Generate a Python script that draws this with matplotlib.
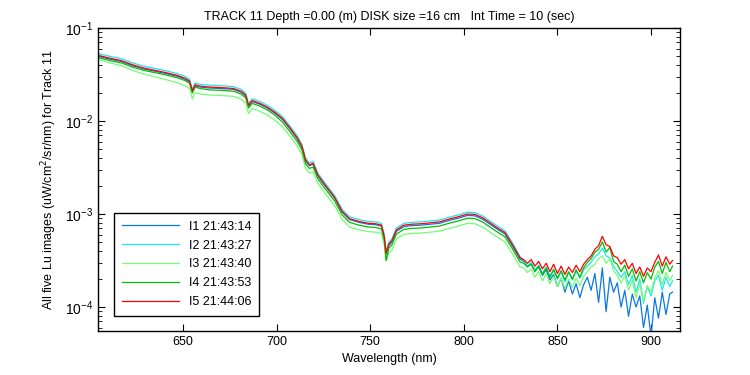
import numpy as np
import matplotlib
matplotlib.use('Agg')
import matplotlib.pyplot as plt
from matplotlib.ticker import LogLocator, NullFormatter

plt.rcParams['font.family'] = ['Liberation Sans', 'DejaVu Sans']

# wavelength grid (nm)
wl = [605, 611, 617, 623, 629, 635, 641, 647, 651, 653.5, 655, 656.5, 659,
      664, 670, 677, 681, 683.5, 685, 687, 691, 695, 699, 703, 707, 711,
      713.5, 715.5, 717.5, 719.5, 722, 726, 731, 735, 739, 744, 749, 753, 756,
      757.5, 758.5, 760, 761.5, 764, 768, 772, 777, 782, 787, 792, 797, 802,
      806, 810, 814, 818, 822, 826, 830,
      832, 834, 836, 838, 840, 842, 844, 846, 848, 850, 852, 854, 856, 858,
      860, 862, 864, 866, 868, 870, 872, 874, 876, 878, 880, 882, 884, 886,
      888, 890, 892, 894, 896, 898, 900, 902, 904, 906, 908, 910, 911.5]

# log10 of Lu (uW/cm^2/sr/nm) for each image
I1_log = [-1.305, -1.335, -1.360, -1.405, -1.440, -1.465, -1.490, -1.520, -1.550, -1.580,
          -1.685, -1.620, -1.635, -1.645, -1.650, -1.660, -1.690, -1.730, -1.840, -1.790,
          -1.820, -1.860, -1.915, -1.980, -2.080, -2.190, -2.280, -2.430, -2.480, -2.465,
          -2.590, -2.700, -2.830, -2.980, -3.060, -3.090, -3.110, -3.115, -3.130, -3.250,
          -3.430, -3.335, -3.305, -3.185, -3.135, -3.125, -3.120, -3.110, -3.100, -3.070,
          -3.045, -3.015, -3.020, -3.055, -3.110, -3.165, -3.215, -3.345, -3.485,
          -3.51, -3.56, -3.53, -3.61, -3.57, -3.66, -3.60, -3.71, -3.65, -3.78,
          -3.69, -3.84, -3.72, -3.86, -3.75, -3.90, -3.76, -3.68, -3.82, -3.64,
          -3.95, -3.58, -4.05, -3.68, -3.84, -3.74, -4.00, -3.82, -4.10, -3.86,
          -4.00, -3.88, -4.22, -3.98, -4.32, -3.90, -4.12, -3.84, -4.08, -3.86, -3.84]
I2_log = [-1.275, -1.305, -1.330, -1.375, -1.410, -1.435, -1.460, -1.490, -1.520, -1.550,
          -1.655, -1.590, -1.605, -1.615, -1.620, -1.630, -1.660, -1.700, -1.810, -1.760,
          -1.790, -1.830, -1.885, -1.950, -2.050, -2.160, -2.250, -2.400, -2.450, -2.435,
          -2.560, -2.670, -2.800, -2.950, -3.030, -3.060, -3.080, -3.085, -3.100, -3.220,
          -3.400, -3.300, -3.270, -3.150, -3.100, -3.090, -3.085, -3.075, -3.065, -3.035,
          -3.010, -2.980, -2.985, -3.020, -3.075, -3.130, -3.180, -3.310, -3.455,
          -3.50, -3.56, -3.52, -3.60, -3.55, -3.64, -3.57, -3.67, -3.59, -3.70,
          -3.62, -3.73, -3.63, -3.71, -3.61, -3.69, -3.60, -3.56, -3.52, -3.46,
          -3.43, -3.37, -3.45, -3.47, -3.56, -3.62, -3.68, -3.62, -3.76, -3.66,
          -3.84, -3.70, -3.96, -3.78, -3.88, -3.72, -3.66, -3.82, -3.68, -3.78, -3.72]
I3_log = [-1.340, -1.375, -1.405, -1.455, -1.495, -1.525, -1.555, -1.590, -1.620, -1.650,
          -1.760, -1.695, -1.710, -1.720, -1.725, -1.735, -1.765, -1.805, -1.920, -1.865,
          -1.895, -1.935, -1.990, -2.060, -2.160, -2.270, -2.360, -2.510, -2.560, -2.545,
          -2.670, -2.780, -2.910, -3.060, -3.140, -3.170, -3.190, -3.195, -3.210, -3.330,
          -3.500, -3.420, -3.390, -3.270, -3.220, -3.210, -3.205, -3.195, -3.185, -3.155,
          -3.130, -3.100, -3.105, -3.140, -3.195, -3.250, -3.300, -3.430, -3.570,
          -3.58, -3.63, -3.59, -3.68, -3.62, -3.72, -3.64, -3.75, -3.67, -3.78,
          -3.69, -3.80, -3.70, -3.79, -3.69, -3.77, -3.67, -3.62, -3.57, -3.54,
          -3.48, -3.45, -3.53, -3.48, -3.61, -3.66, -3.74, -3.66, -3.82, -3.71,
          -3.90, -3.75, -3.94, -3.77, -3.84, -3.69, -3.61, -3.76, -3.63, -3.72, -3.66]
I4_log = [-1.320, -1.350, -1.375, -1.420, -1.455, -1.480, -1.505, -1.535, -1.565, -1.595,
          -1.700, -1.635, -1.650, -1.665, -1.670, -1.680, -1.710, -1.750, -1.860, -1.810,
          -1.840, -1.880, -1.935, -2.010, -2.110, -2.220, -2.310, -2.460, -2.510, -2.495,
          -2.620, -2.730, -2.860, -3.010, -3.090, -3.120, -3.140, -3.145, -3.160, -3.280,
          -3.500, -3.365, -3.335, -3.215, -3.165, -3.155, -3.150, -3.140, -3.130, -3.100,
          -3.075, -3.045, -3.050, -3.085, -3.140, -3.195, -3.245, -3.375, -3.515,
          -3.53, -3.57, -3.54, -3.62, -3.56, -3.65, -3.58, -3.68, -3.60, -3.69,
          -3.61, -3.71, -3.62, -3.70, -3.60, -3.68, -3.58, -3.52, -3.48, -3.41,
          -3.38, -3.30, -3.41, -3.36, -3.51, -3.54, -3.62, -3.55, -3.67, -3.59,
          -3.72, -3.62, -3.74, -3.63, -3.70, -3.57, -3.51, -3.64, -3.52, -3.62, -3.56]
I5_log = [-1.295, -1.325, -1.350, -1.395, -1.430, -1.455, -1.480, -1.510, -1.540, -1.570,
          -1.675, -1.610, -1.625, -1.635, -1.640, -1.650, -1.680, -1.720, -1.830, -1.780,
          -1.810, -1.850, -1.905, -1.970, -2.070, -2.180, -2.270, -2.420, -2.470, -2.455,
          -2.580, -2.690, -2.820, -2.970, -3.050, -3.080, -3.100, -3.105, -3.120, -3.240,
          -3.420, -3.320, -3.290, -3.170, -3.120, -3.110, -3.105, -3.095, -3.085, -3.055,
          -3.030, -3.000, -3.005, -3.040, -3.095, -3.150, -3.200, -3.330, -3.470,
          -3.49, -3.53, -3.49, -3.56, -3.51, -3.59, -3.53, -3.62, -3.54, -3.64,
          -3.56, -3.65, -3.57, -3.63, -3.55, -3.62, -3.54, -3.49, -3.45, -3.38,
          -3.34, -3.24, -3.33, -3.35, -3.45, -3.47, -3.54, -3.49, -3.59, -3.53,
          -3.64, -3.57, -3.67, -3.58, -3.62, -3.52, -3.44, -3.56, -3.46, -3.54, -3.50]

labels = ['I1 21:43:14', 'I2 21:43:27', 'I3 21:43:40', 'I4 21:43:53', 'I5 21:44:06']
colors = ['#0a78e6', '#1ee6f0', '#70ff70', '#00c000', '#ff0000']
series = [I1_log, I2_log, I3_log, I4_log, I5_log]

fig = plt.figure(figsize=(7.5, 3.75), dpi=100)
ax = fig.add_axes([0.1307, 0.1173, 0.776, 0.808])

for s, c, lb in zip(series, colors, labels):
    ax.plot(wl, 10 ** np.array(s), color=c, lw=0.9, label=lb)

ax.set_yscale('log')
ax.set_xlim(604.6, 915.5)
ax.set_ylim(5.52e-5, 0.1)
ax.set_xticks([650, 700, 750, 800, 850, 900])
ax.yaxis.set_major_locator(LogLocator(base=10, numticks=10))
ax.yaxis.set_minor_locator(LogLocator(base=10, subs=np.arange(2, 10), numticks=10))
ax.yaxis.set_minor_formatter(NullFormatter())
ax.tick_params(which='both', direction='in', top=True, right=True, labelsize=9)
ax.tick_params(axis='y', labelsize=10)
ax.tick_params(which='major', length=5)
ax.tick_params(which='minor', length=3)
for sp in ax.spines.values():
    sp.set_linewidth(1.0)

ax.set_title('TRACK 11 Depth =0.00 (m) DISK size =16 cm   Int Time = 10 (sec)', fontsize=9)
ax.set_xlabel('Wavelength (nm)', fontsize=9)
ax.set_ylabel('All five Lu images (uW/cm$^2$/sr/nm) for Track 11', fontsize=9)

leg = ax.legend(loc='lower left', bbox_to_anchor=(0.017, 0.03), fontsize=9,
                handlelength=4.6, labelspacing=0.55, fancybox=False,
                framealpha=1, edgecolor='black', borderpad=0.6)
leg.get_frame().set_linewidth(1.0)

plt.savefig('out.png', dpi=100)
